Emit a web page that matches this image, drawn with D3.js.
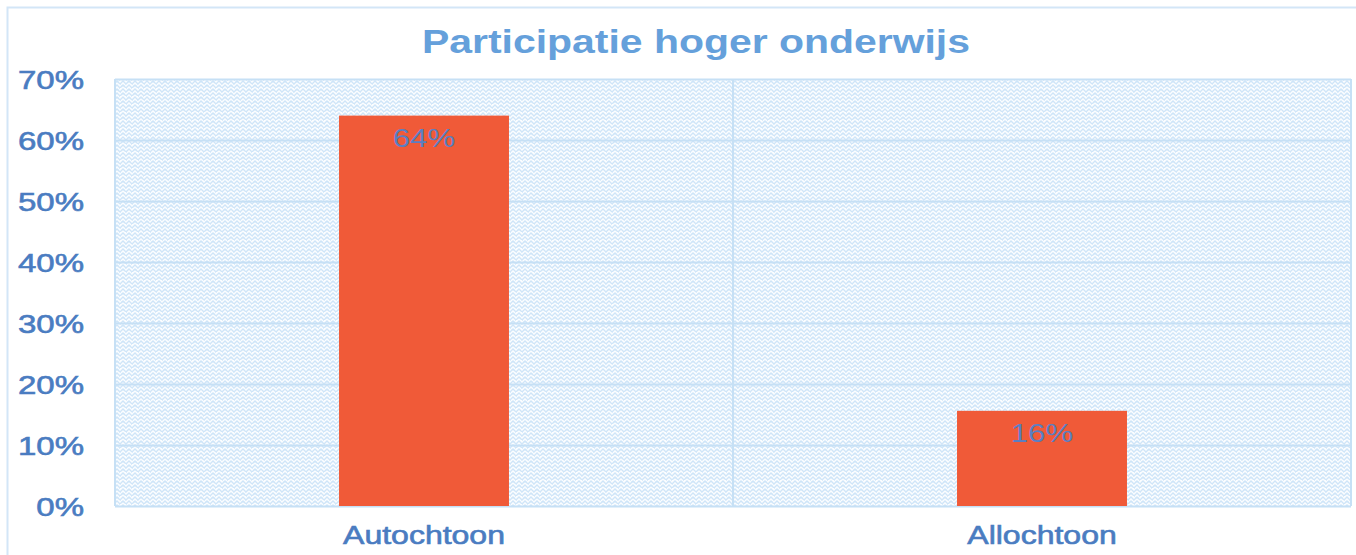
<!DOCTYPE html>
<html>
<head>
<meta charset="utf-8">
<script src="https://cdn.jsdelivr.net/npm/d3@7"></script>
<style>
  html, body { margin: 0; padding: 0; background: #fff; }
  svg { display: block; }
  text { font-family: "Liberation Sans", Arial, sans-serif; }
</style>
</head>
<body>
<svg id="chart" width="1356" height="555"></svg>
<script>
const title = "Participatie hoger onderwijs";
const categories = ["Autochtoon", "Allochtoon"];
const values = [0.64, 0.156];
const valueLabels = ["64%", "16%"];
const yTicks = [0, 0.1, 0.2, 0.3, 0.4, 0.5, 0.6, 0.7];

const W = 1356, H = 555;
const m = { left: 115, right: 5, top: 79, bottom: 49 };
const svg = d3.select("#chart");

function stretch(k) {
  return sel => sel.each(function () {
    const w = this.getComputedTextLength();
    d3.select(this).attr("textLength", w * k).attr("lengthAdjust", "spacingAndGlyphs");
  });
}

// pattern
const defs = svg.append("defs");
const pat = defs.append("pattern").attr("id", "trellis")
  .attr("patternUnits", "userSpaceOnUse").attr("width", 12).attr("height", 8);
pat.append("rect").attr("width", 12).attr("height", 8).attr("fill", "#fbfdff");
pat.append("path").attr("d", "M0,4 L3,1 L6,4 L9,1 L12,4 M0,8 L3,5 L6,8 L9,5 L12,8")
  .attr("fill", "none").attr("stroke", "#cfe5f8").attr("stroke-width", 1.3);
pat.append("path").attr("d", "M0,4 L3,7 L6,4 M6,0 L9,3 L12,0")
  .attr("fill", "none").attr("stroke", "#dcedfb").attr("stroke-width", 1);

// outer frame
svg.append("rect").attr("x", 7.5).attr("y", 7.5).attr("width", W + 10).attr("height", H + 10)
  .attr("fill", "none").attr("stroke", "#d3e6f7").attr("stroke-width", 2);

const x = d3.scaleBand().domain(categories).range([m.left, W - m.right])
  .paddingInner(0.725).paddingOuter(0.3625);
const y = d3.scaleLinear().domain([0, 0.7]).range([H - m.bottom, m.top]);

// plot area background
svg.append("rect").attr("x", m.left).attr("y", m.top)
  .attr("width", W - m.right - m.left).attr("height", y(0) - m.top)
  .attr("fill", "url(#trellis)");

// gridlines
const yGrid = d3.axisLeft(y).tickValues(yTicks).tickSize(-(W - m.right - m.left)).tickFormat("");
const gg = svg.append("g").attr("transform", `translate(${m.left},0)`).call(yGrid);
gg.select(".domain").remove();
gg.selectAll("line").attr("stroke", "#c6e0f5").attr("stroke-width", 2);

// vertical separators
const seps = [m.left, (x(categories[0]) + x.bandwidth() + x(categories[1])) / 2, W - m.right];
svg.selectAll("line.sep").data(seps).join("line").attr("class", "sep")
  .attr("x1", d => d).attr("x2", d => d).attr("y1", m.top).attr("y2", y(0))
  .attr("stroke", "#c6e0f5").attr("stroke-width", 2);

// y labels
const yAxis = d3.axisLeft(y).tickValues(yTicks).tickFormat(d3.format(".0%")).tickSize(0).tickPadding(0);
const ya = svg.append("g").attr("transform", `translate(84,0)`).call(yAxis);
ya.select(".domain").remove();
ya.selectAll("text").attr("font-size", 26).attr("fill", "#4a7cc1")
  .attr("stroke", "#4a7cc1").attr("stroke-width", 0.6)
  .attr("font-family", "Liberation Sans, Arial, sans-serif").attr("dy", "0.35em").call(stretch(1.27));

// bars
svg.selectAll("rect.bar").data(values).join("rect").attr("class", "bar")
  .attr("x", (d, i) => x(categories[i])).attr("width", x.bandwidth())
  .attr("y", d => y(d)).attr("height", d => y(0) - y(d))
  .attr("fill", "#f05a38");

// value labels
svg.selectAll("text.val").data(values).join("text").attr("class", "val")
  .attr("x", (d, i) => x(categories[i]) + x.bandwidth() / 2)
  .attr("y", d => y(d) + 31)
  .attr("text-anchor", "middle").attr("font-size", 26).attr("fill", "#5a7fc2")
  .text((d, i) => valueLabels[i]).call(stretch(1.2));

// x labels
const xAxis = d3.axisBottom(x).tickSize(0).tickPadding(0);
const xa = svg.append("g").attr("transform", `translate(0,${y(0)})`).call(xAxis);
xa.select(".domain").remove();
xa.selectAll("text").attr("font-size", 25).attr("fill", "#4a7cc1")
  .attr("stroke", "#4a7cc1").attr("stroke-width", 0.6)
  .attr("font-family", "Liberation Sans, Arial, sans-serif")
  .attr("dy", 0).attr("y", 38).call(stretch(1.28));

// title
svg.append("text").attr("x", 696).attr("y", 53).attr("text-anchor", "middle")
  .attr("font-size", 33).attr("font-weight", "bold").attr("fill", "#65a0db")
  .text(title).call(stretch(1.24));
</script>
</body>
</html>
